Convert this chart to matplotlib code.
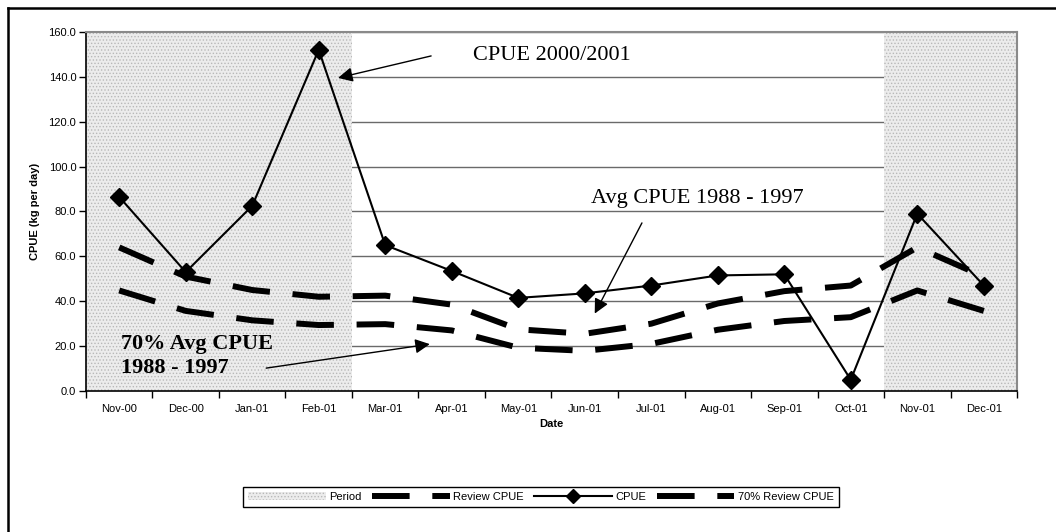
"""
CPUE 2000/2001 against the 1988-1997 review average (and 70% of it).
"""
import numpy as np
import matplotlib
matplotlib.use('Agg')
import matplotlib.pyplot as plt
from matplotlib.lines import Line2D
from matplotlib.patches import Patch

# ============================================================
# Data
# ============================================================
months = ['Nov-00', 'Dec-00', 'Jan-01', 'Feb-01', 'Mar-01', 'Apr-01', 'May-01',
          'Jun-01', 'Jul-01', 'Aug-01', 'Sep-01', 'Oct-01', 'Nov-01', 'Dec-01']
period = [160, 160, 160, 160, 0, 0, 0, 0, 0, 0, 0, 0, 160, 160]
review_cpue = [64.0, 51.0, 45.0, 42.0, 42.5, 38.5, 27.5, 25.5, 30.0, 39.0, 44.5, 47.0, 64.0, 51.0]
review_70 = [44.8, 35.7, 31.5, 29.4, 29.8, 27.0, 19.3, 17.9, 21.0, 27.3, 31.2, 32.9, 44.8, 35.7]
cpue = [86.5, 53.0, 82.5, 152.0, 65.0, 53.5, 41.5, 43.5, 47.0, 51.5, 52.0, 5.0, 79.0, 47.0]

# ============================================================
# Style
# ============================================================
plt.rcParams.update({
    'font.family': 'sans-serif',
    'font.sans-serif': ['Liberation Sans', 'DejaVu Sans'],
    'font.size': 8,
    'hatch.linewidth': 0.6,
})
SERIF = 'Liberation Serif'
DASH = (6.3, 3.8)

fig = plt.figure(figsize=(10.56, 5.32), dpi=100)
ax = fig.add_axes([0.0814, 0.265, 0.8817, 0.675])

x = np.arange(len(months))

# shaded "Period" bars
ax.bar(x, period, width=1.0, color='#ececec', edgecolor='#b8b8b8', hatch='.....',
       linewidth=0, zorder=1)

ax.plot(x, review_cpue, color='black', lw=4.3, dashes=DASH, solid_capstyle='butt',
        dash_capstyle='butt', zorder=3)
ax.plot(x, review_70, color='black', lw=4.3, dashes=DASH, solid_capstyle='butt',
        dash_capstyle='butt', zorder=3)
ax.plot(x, cpue, color='black', lw=1.5, marker='D', markersize=9.5, zorder=4)

# axes
ax.set_xlim(-0.5, len(months) - 0.5)
ax.set_ylim(0, 160)
ax.set_yticks(np.arange(0, 161, 20))
ax.set_yticklabels([f'{v:.1f}' for v in np.arange(0, 161, 20)])
ax.set_xticks(np.arange(-0.5, len(months), 1.0))
ax.set_xticklabels([])
ax.set_xticks(x, minor=True)
ax.set_xticklabels(months, minor=True)
ax.tick_params(axis='x', which='minor', length=0, pad=9)
ax.tick_params(axis='x', which='major', length=5, width=1)
ax.tick_params(axis='y', length=5, width=1, pad=2)
ax.yaxis.grid(True, color='#6a6a6a', lw=1)
ax.set_axisbelow(True)

for side in ['top', 'right']:
    ax.spines[side].set_color('#8a8a8a')
    ax.spines[side].set_linewidth(1.5)
for side in ['left', 'bottom']:
    ax.spines[side].set_linewidth(1.2)

ax.set_xlabel('Date', fontweight='bold', labelpad=4)
ax.set_ylabel('CPUE (kg per day)', fontweight='bold', labelpad=6)

# annotations
arrow = dict(arrowstyle='-|>', color='black', lw=1, mutation_scale=22, shrinkA=0, shrinkB=0)
ax.text(5.32, 149.7, 'CPUE 2000/2001', family=SERIF, fontsize=16, va='center', ha='left')
ax.annotate('', xy=(3.29, 139.5), xytext=(4.69, 149.3), arrowprops=arrow)
ax.text(7.09, 85.6, 'Avg CPUE 1988 - 1997', family=SERIF, fontsize=16, va='center', ha='left')
ax.annotate('', xy=(7.15, 34.5), xytext=(7.86, 74.9), arrowprops=arrow)
ax.text(0.03, 15.6, '70% Avg CPUE\n1988 - 1997', family=SERIF, fontsize=16,
        fontweight='bold', va='center', ha='left', linespacing=1.25)
ax.annotate('', xy=(4.67, 20.9), xytext=(2.21, 10.2), arrowprops=arrow)

# legend
handles = [
    Patch(facecolor='#ececec', edgecolor='#b8b8b8', hatch='.....', linewidth=0),
    Line2D([], [], color='black', lw=4.3, dashes=DASH, dash_capstyle='butt'),
    Line2D([], [], color='black', lw=1.5, marker='D', markersize=7),
    Line2D([], [], color='black', lw=4.3, dashes=DASH, dash_capstyle='butt'),
]
labels = ['Period', 'Review CPUE', 'CPUE', '70% Review CPUE']
leg = fig.legend(handles, labels, loc='center', bbox_to_anchor=(0.512, 0.0667), ncol=4,
                 frameon=True, fancybox=False, edgecolor='black', framealpha=1,
                 handlelength=7.0, handletextpad=0.3, columnspacing=0.95,
                 borderpad=0.45, fontsize=8)
leg.get_frame().set_linewidth(1)

# outer frame (top and left edges show in the original)
fig.add_artist(Line2D([8 / 1056, 1], [1 - 8 / 532, 1 - 8 / 532], color='black', lw=1.8,
                      transform=fig.transFigure))
fig.add_artist(Line2D([8 / 1056, 8 / 1056], [0, 1 - 8 / 532], color='black', lw=1.8,
                      transform=fig.transFigure))

fig.savefig('out.png', dpi=100)
plt.close(fig)
